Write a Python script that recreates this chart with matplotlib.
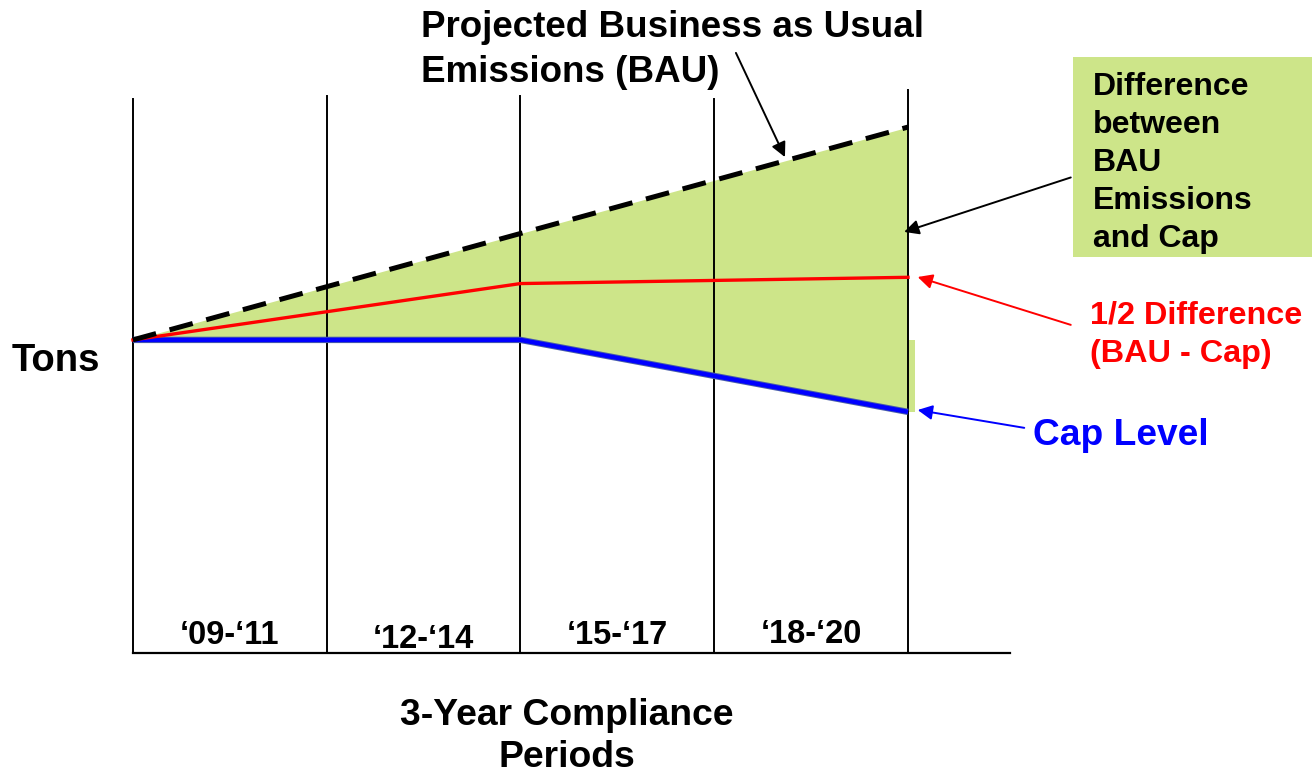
import matplotlib
matplotlib.use("Agg")
import matplotlib.pyplot as plt
from matplotlib.patches import Rectangle

plt.rcParams['font.family'] = ['Liberation Sans', 'DejaVu Sans']
plt.rcParams['font.weight'] = 'bold'

# period boundaries (x) and emission levels (arbitrary tons units)
bounds = [0, 1, 2, 3, 4]
bau = [100, 117, 134, 151, 168]
cap = [100, 100, 100, 88.5, 77]
half_x = [0, 2, 4]
half = [100, 118, 120]
periods = ["\u201809-\u201811", "\u201812-\u201814", "\u201815-\u201817", "\u201818-\u201820"]
period_y = [5.5, 4.3, 5.5, 5.8]
line_top = [177, 178, 178, 177, 180]

green = '#cde589'

fig = plt.figure(figsize=(13.12, 7.74), dpi=100)
ax = fig.add_axes([0, 0, 1, 1])
ax.set_xlim(-0.686, 6.085)
ax.set_ylim(-38.7, 208.6)
ax.axis('off')

# shaded gap between BAU and cap
ax.fill_between(bounds, cap, bau, color=green, lw=0, zorder=1)
ax.fill_between([4, 4.035], [cap[-1]] * 2, [cap[0]] * 2, color=green, lw=0, zorder=1)

# vertical period separators and bottom axis
for x, top in zip(bounds, line_top):
    ax.plot([x, x], [0, top], color='black', lw=1.4, zorder=2)
ax.plot([0, 4.526], [0, 0], color='black', lw=1.6, zorder=2)

# lines
ax.plot(bounds, cap, color='#4a5fa8', lw=4.6, zorder=3, solid_capstyle='butt')
ax.plot(bounds, cap, color='#0000ff', lw=3.2, zorder=4, solid_capstyle='butt')
ax.plot(half_x, half, color='#ff0000', lw=2.4, zorder=4)
bl, = ax.plot(bounds, bau, color='black', lw=3.6, zorder=5)
bl.set_dashes((4.8, 2.8))

# period labels
for i, (lab, y) in enumerate(zip(periods, period_y)):
    ax.text(i + 0.5, y, lab, ha='center', va='center', fontsize=23.5)

ax.text(2.24, -26.6, "3-Year Compliance\nPeriods", ha='center', va='center',
        fontsize=26.8, linespacing=1.25)
ax.text(-0.625, 93.2, "Tons", ha='left', va='center', fontsize=27.5)

# BAU label
ax.text(1.486, 205.5, "Projected Business as Usual\nEmissions (BAU)", ha='left',
        va='top', fontsize=26.5, linespacing=1.39)
ax.annotate("", xy=(3.365, 158.4), xytext=(3.112, 191.7),
            arrowprops=dict(arrowstyle='-|>', color='black', lw=1.4,
                            mutation_scale=22, shrinkA=0, shrinkB=0))

# difference box
ax.add_patch(Rectangle((4.852, 126.5), 1.3, 63.9, color=green, lw=0, zorder=1))
ax.text(4.955, 185.5, "Difference\nbetween\nBAU\nEmissions\nand Cap", ha='left',
        va='top', fontsize=23, linespacing=1.35)
ax.annotate("", xy=(3.98, 134.5), xytext=(4.84, 151.9),
            arrowprops=dict(arrowstyle='-|>', color='black', lw=1.4,
                            mutation_scale=22, shrinkA=0, shrinkB=0))

# half difference
ax.text(4.939, 101.6, "1/2 Difference\n(BAU - Cap)", ha='left', va='center',
        fontsize=23.3, color='#ff0000', linespacing=1.37)
ax.annotate("", xy=(4.05, 120.1), xytext=(4.84, 104.8),
            arrowprops=dict(arrowstyle='-|>', color='#ff0000', lw=1.4,
                            mutation_scale=22, shrinkA=0, shrinkB=0))

# cap level
ax.text(4.645, 69.3, "Cap Level", ha='left', va='center', fontsize=26.7,
        color='#0000ff')
ax.annotate("", xy=(4.05, 77.6), xytext=(4.6, 71.9),
            arrowprops=dict(arrowstyle='-|>', color='#0000ff', lw=1.4,
                            mutation_scale=22, shrinkA=0, shrinkB=0))

fig.savefig("out.png", dpi=100)
